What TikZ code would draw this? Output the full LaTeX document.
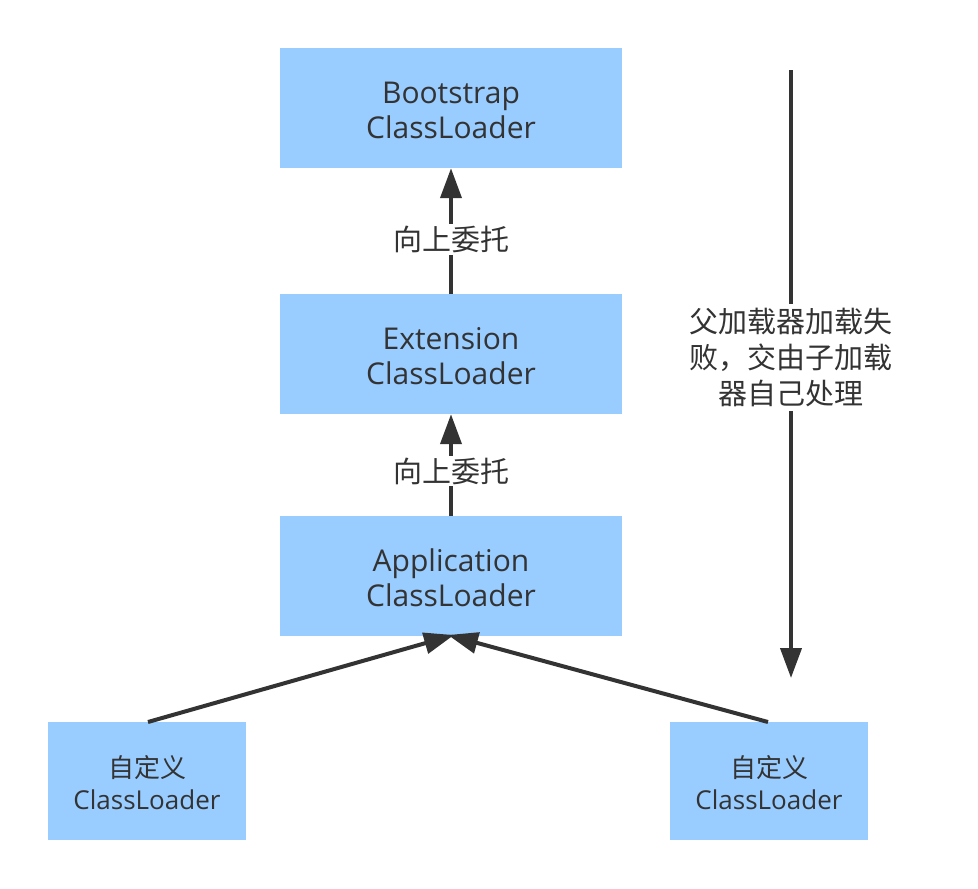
\documentclass[tikz,border=0pt]{standalone}
\usepackage{fontspec}
\setmainfont{Open Sans}
\newfontfamily\cjk{Noto Sans CJK SC}
\usetikzlibrary{arrows.meta}
\definecolor{boxblue}{HTML}{99CCFF}
\definecolor{ink}{HTML}{333333}
\tikzset{
  loader/.style={fill=boxblue, draw=none, minimum width=342pt, minimum height=120pt,
    inner sep=0pt},
  custom/.style={fill=boxblue, draw=none, minimum width=198pt, minimum height=118pt,
    inner sep=0pt},
  bigtext/.style={inner sep=0pt, align=center, text=ink, font=\fontsize{30}{35}\selectfont},
  smalltext/.style={inner sep=0pt, align=center, text=ink, font=\fontsize{26}{32}\selectfont},
  conn/.style={draw=ink, line width=4pt, -{Triangle[length=30pt,width=21pt]}},
  lbl/.style={fill=white, text=ink, inner sep=2pt, align=center,
    font=\cjk\fontsize{29}{36}\selectfont}
}
\begin{document}
\begin{tikzpicture}[x=1pt,y=-1pt]
\useasboundingbox (0,0) rectangle (978,889);
\node[loader] (boot) at (451,108) {};
\node[loader] (ext) at (451,354) {};
\node[loader] (app) at (451,576) {};
\node[custom] (c1) at (147,781) {};
\node[custom] (c2) at (769,781) {};
\node[bigtext] (boott) at (451,110) {Bootstrap\\ClassLoader};
\node[bigtext] (extt) at (451,356) {Extension\\ClassLoader};
\node[bigtext] (appt) at (451,578) {Application\\ClassLoader};
\node[smalltext] (c1t) at (147,783) {{\cjk 自定义}\\ClassLoader};
\node[smalltext] (c2t) at (769,783) {{\cjk 自定义}\\ClassLoader};
\coordinate (appL) at (454,635);
\coordinate (appR) at (448,635);
\coordinate (c1top) at (148,722);
\coordinate (c2top) at (768,722);
\coordinate (vtop) at (791,70);
\coordinate (vbot) at (791,678);
\draw[conn] (ext.north) -- (boot.south) node[lbl, pos=0.43] (l1) {向上委托};
\draw[conn] (app.north) -- (ext.south) node[lbl, pos=0.44] (l2) {向上委托};
\draw[conn] (c1top) -- (appL);
\draw[conn] (c2top) -- (appR);
\draw[conn] (vtop) -- (vbot) node[lbl, pos=0.473, inner sep=4pt] (l3) {父加载器加载失\\败，交由子加载\\器自己处理};
\end{tikzpicture}
\end{document}
